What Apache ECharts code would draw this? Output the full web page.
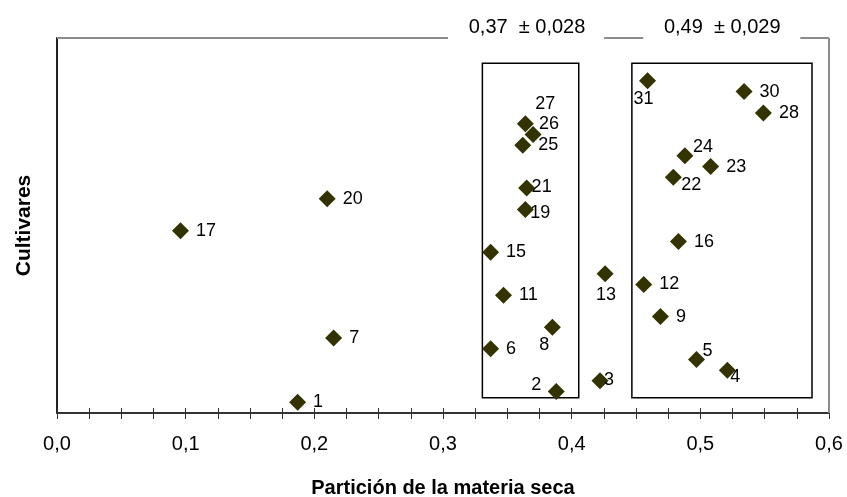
<!DOCTYPE html>
<html>
<head>
<meta charset="utf-8">
<script src="https://cdn.jsdelivr.net/npm/echarts@6/dist/echarts.min.js"></script>
<style>
  html, body { margin: 0; padding: 0; background: #fff; }
  #chart { width: 847px; height: 497px; }
</style>
</head>
<body>
<div id="chart"></div>
<script>
// Cultivar numbers and their dry-matter partition value
const cultivares = [1, 2, 3, 4, 5, 6, 7, 8, 9, 11, 12, 13, 15, 16, 17, 19, 20, 21, 22, 23, 24, 25, 26, 27, 28, 30, 31];
const particion = [0.187, 0.388, 0.422, 0.521, 0.497, 0.337, 0.215, 0.385, 0.469, 0.347, 0.456, 0.426, 0.337, 0.483, 0.096, 0.364, 0.210, 0.365, 0.479, 0.508, 0.488, 0.362, 0.370, 0.364, 0.549, 0.534, 0.459];

// Tick labels along the x axis
const xTicks = [0.0, 0.1, 0.2, 0.3, 0.4, 0.5, 0.6];

// Group summaries (mean ± sd) and the extent of each group box
const grupos = ['0,37  ± 0,028', '0,49  ± 0,029'];
const grupoXmin = [0.3306, 0.4468];
const grupoXmax = [0.4055, 0.5868];
const grupoYmin = [1.43, 1.43];
const grupoYmax = [32.65, 32.65];

// Hand-placed label offsets (label centre relative to marker centre)
const labelOffsets = {
  31: [-4, 18], 27: [20, -20], 26: [16, -10], 21: [15, -1], 19: [15, 4],
  24: [18, -9], 22: [18, 8], 13: [1, 21], 8: [-8, 18], 5: [11, -8],
  4: [8, 7], 3: [9, -1], 2: [-20, -7]
};

const FONT = 'Liberation Sans, Arial, sans-serif';
const chart = echarts.init(document.getElementById('chart'), null, { renderer: 'canvas' });

const points = cultivares.map((c, i) => {
  const item = { value: [particion[i], c], name: String(c) };
  if (labelOffsets[c]) {
    item.label = { position: 'inside', offset: labelOffsets[c], align: 'center', verticalAlign: 'middle' };
  }
  return item;
});

const fmt = v => {
  const r = Math.round(v * 1000) / 1000;
  return xTicks.some(t => Math.abs(t - r) < 1e-6) ? r.toFixed(1).replace('.', ',') : '';
};

const grayLine = { color: '#8c8c8c', width: 2, type: 'solid' };

chart.setOption({
  animation: false,
  backgroundColor: '#fff',
  grid: { left: 57, right: 18, top: 38, bottom: 84, show: false, containLabel: false, outerBoundsMode: 'none' },
  xAxis: [
    {
      type: 'value', min: 0, max: 0.6, interval: 0.025,
      name: 'Partición de la materia seca', nameLocation: 'middle', nameGap: 65,
      nameTextStyle: { fontFamily: FONT, fontSize: 20, fontWeight: 'bold', color: '#000' },
      axisLine: { show: true, lineStyle: { color: '#333', width: 2 } },
      axisTick: { show: true, inside: false, length: 6, lineStyle: { color: '#333', width: 1 } },
      axisLabel: { formatter: fmt, margin: 21, fontFamily: FONT, fontSize: 20, color: '#000', showMinLabel: true, showMaxLabel: true },
      splitLine: { show: false }
    },
    {
      type: 'value', min: 0, max: 0.6, interval: 0.025, position: 'bottom',
      axisLine: { show: false },
      axisTick: { show: true, inside: true, length: 5, lineStyle: { color: '#333', width: 1 } },
      axisLabel: { show: false },
      splitLine: { show: false }
    }
  ],
  yAxis: {
    type: 'value', min: 0, max: 35,
    name: 'Cultivares', nameLocation: 'middle', nameGap: 22,
    nameTextStyle: { fontFamily: FONT, fontSize: 21, fontWeight: 'bold', color: '#000' },
    axisLine: { show: true, lineStyle: { color: '#222', width: 2 } },
    axisTick: { show: false },
    axisLabel: { show: false },
    splitLine: { show: false }
  },
  series: [
    {
      type: 'scatter',
      xAxisIndex: 0,
      symbol: 'diamond',
      symbolSize: 17,
      itemStyle: { color: '#333300', opacity: 1 },
      label: {
        show: true, position: 'right', distance: 7,
        formatter: p => p.name,
        fontFamily: FONT, fontSize: 18, color: '#000'
      },
      data: points,
      markArea: {
        silent: true,
        itemStyle: { color: 'rgba(0,0,0,0)', borderColor: '#000', borderWidth: 1.5 },
        label: { show: false },
        data: grupos.map((g, i) => [
          { xAxis: grupoXmin[i], yAxis: grupoYmin[i] },
          { xAxis: grupoXmax[i], yAxis: grupoYmax[i] }
        ])
      },
      markLine: {
        silent: true,
        symbol: ['none', 'none'],
        label: { show: false },
        lineStyle: grayLine,
        data: [
          [{ coord: [0, 35] }, { coord: [0.3039, 35] }],
          [{ coord: [0.4252, 35] }, { coord: [0.4556, 35] }],
          [{ coord: [0.5777, 35] }, { coord: [0.6, 35] }],
          [{ coord: [0.6, 0] }, { coord: [0.6, 35] }]
        ]
      }
    }
  ]
});

// Group summaries sit in the gaps of the top frame line
const centres = [0.3653, 0.5170];
chart.setOption({
  graphic: grupos.map((g, i) => {
    const p = chart.convertToPixel({ xAxisIndex: 0, yAxisIndex: 0 }, [centres[i], 35]);
    return {
      type: 'text', x: p[0], y: p[1] - 11,
      style: { text: g, fontFamily: FONT, fontSize: 20, fill: '#000', align: 'center', verticalAlign: 'middle' }
    };
  })
});
</script>
</body>
</html>
